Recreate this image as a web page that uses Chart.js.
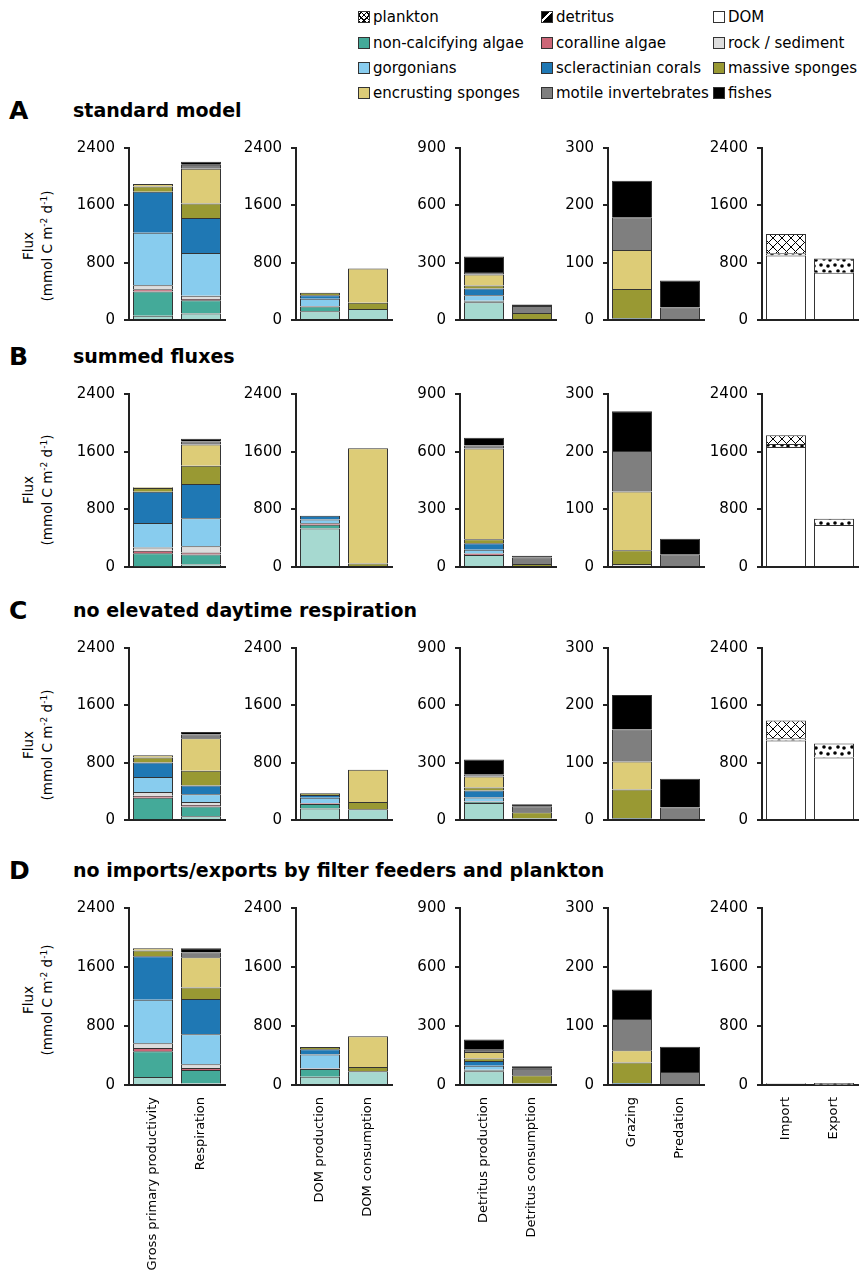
<!DOCTYPE html>
<html>
<head>
<meta charset="utf-8">
<script src="https://cdn.jsdelivr.net/npm/chart.js@4.4.1/dist/chart.umd.min.js"></script>
<style>
  body { margin: 0; background: #fff; font-family: 'DejaVu Sans', sans-serif; color: #000; }
  #page { position: relative; width: 866px; height: 1271px; overflow: hidden; }
  .abs { position: absolute; white-space: nowrap; }
  .leg { position: absolute; font-size: 15px; line-height: 15px; white-space: nowrap; }
  .leg i { display: inline-block; width: 10px; height: 10px; border: 1px solid #333; margin-right: 3px; vertical-align: -1px; }
  .letter { font-weight: bold; font-size: 25px; }
  .title { font-weight: bold; font-size: 19px; }
  .ytitle { font-size: 13.5px; transform: translate(-50%, -50%) rotate(-90deg); }
  .ytitle sup { font-size: 9px; }
</style>
</head>
<body>
<div id="page"></div>
<script>
// bars in each row: GPP, respiration, DOM prod/cons, detritus prod/cons, grazing, predation, import, export
const barLabels = ['Gross primary productivity', 'Respiration', 'DOM production', 'DOM consumption',
  'Detritus production', 'Detritus consumption', 'Grazing', 'Predation', 'Import', 'Export'];

// stacking order, bottom to top
const groups = ['DOM', 'detritus', 'plankton', 'non-calcifying algae', 'coralline algae', 'rock / sediment',
  'gorgonians', 'scleractinian corals', 'massive sponges', 'encrusting sponges', 'motile invertebrates', 'fishes'];
const groupColors = ['#ffffff', 'dots', '#a6d9d0', '#44aa99', '#cc6677', '#dddddd',
  '#88ccee', '#1f78b4', '#999933', '#ddcc77', '#7f7f7f', '#000000'];

const yMax = [2400, 2400, 900, 300, 2400];
const yStep = [800, 800, 300, 100, 800];

const rowLetters = ['A', 'B', 'C', 'D'];
const rowTitles = ['standard model', 'summed fluxes', 'no elevated daytime respiration',
  'no imports/exports by filter feeders and plankton'];

const standardModel = [
  [0, 0, 0, 0, 0, 0, 0, 0, 900, 661],
  [0, 0, 0, 0, 0, 0, 0, 0, 30, 196],
  [60, 91, 122, 152, 93, 0, 0, 0, 270, 0],
  [339, 183, 65, 0, 5, 0, 0, 0, 0, 0],
  [30, 20, 8, 0, 3, 0, 0, 0, 0, 0],
  [57, 45, 0, 0, 0, 0, 0, 0, 0, 0],
  [730, 596, 100, 0, 28, 0, 0, 0, 0, 0],
  [574, 487, 52, 0, 36, 0, 3, 0, 0, 0],
  [74, 204, 34, 87, 16, 36, 51, 0, 0, 0],
  [35, 483, 0, 478, 57, 0, 68, 0, 0, 0],
  [0, 57, 0, 0, 13, 37, 57, 22, 0, 0],
  [0, 43, 0, 0, 81, 8, 64, 47, 0, 0]
];

const summedFluxes = [
  [0, 0, 0, 0, 0, 0, 0, 0, 1665, 584],
  [0, 0, 0, 0, 0, 0, 0, 0, 43, 86],
  [10, 35, 534, 0, 62, 0, 0, 0, 121, 0],
  [182, 139, 52, 0, 0, 0, 0, 0, 0, 0],
  [35, 26, 20, 0, 8, 0, 0, 0, 0, 0],
  [43, 87, 0, 0, 0, 0, 5, 0, 0, 0],
  [339, 391, 52, 0, 20, 0, 0, 0, 0, 0],
  [434, 473, 52, 0, 34, 0, 0, 0, 0, 0],
  [52, 252, 0, 48, 20, 16, 24, 0, 0, 0],
  [13, 295, 0, 1601, 472, 0, 102, 0, 0, 0],
  [0, 43, 0, 0, 16, 34, 70, 22, 0, 0],
  [0, 39, 0, 0, 41, 8, 69, 27, 0, 0]
];

const noDaytimeResp = [
  [0, 0, 0, 0, 0, 0, 0, 0, 1110, 873],
  [0, 0, 0, 0, 0, 0, 0, 0, 30, 194],
  [12, 52, 160, 151, 89, 0, 0, 0, 250, 0],
  [298, 135, 65, 0, 5, 0, 0, 0, 0, 0],
  [30, 22, 8, 0, 3, 0, 0, 0, 0, 0],
  [52, 43, 0, 0, 0, 0, 0, 0, 0, 0],
  [208, 108, 78, 0, 21, 0, 0, 0, 0, 0],
  [204, 122, 39, 0, 36, 8, 3, 0, 0, 0],
  [69, 204, 22, 99, 16, 32, 50, 0, 0, 0],
  [30, 456, 0, 450, 57, 0, 49, 0, 0, 0],
  [0, 52, 0, 0, 13, 32, 56, 22, 0, 0],
  [0, 35, 0, 0, 76, 11, 60, 50, 0, 0]
];

const noImportsExports = [
  [0, 0, 0, 0, 0, 0, 0, 0, 25, 5],
  [0, 0, 0, 0, 0, 0, 0, 0, 0, 22],
  [109, 22, 113, 187, 70, 0, 0, 0, 0, 0],
  [349, 183, 104, 0, 5, 0, 0, 0, 0, 0],
  [44, 26, 8, 0, 3, 0, 0, 0, 0, 0],
  [65, 52, 0, 0, 0, 0, 0, 0, 0, 0],
  [589, 406, 187, 0, 20, 0, 0, 0, 0, 0],
  [589, 476, 74, 0, 24, 8, 3, 0, 0, 0],
  [79, 157, 30, 56, 13, 41, 35, 0, 0, 0],
  [30, 410, 0, 417, 33, 0, 21, 0, 0, 0],
  [0, 65, 0, 0, 11, 33, 53, 22, 0, 0],
  [0, 57, 0, 0, 52, 13, 50, 43, 0, 0]
];

const rows = [standardModel, summedFluxes, noDaytimeResp, noImportsExports];

// layout (pixels)
const axisX = [129, 296, 460, 608, 762];
const rowTop = [142, 388, 642, 902];
const rowBottom = [326, 573, 826, 1085];
const yTitleY = [246, 490, 745, 1000];
const Y_W = 70, PLOT_W = 96, PAD_T = 12, PAD_B = 12, PAD_R = 10, X_LABEL_H = 185;

Chart.defaults.font.family = "'DejaVu Sans', sans-serif";
Chart.defaults.color = '#000';

const page = document.getElementById('page');

const crossHatch = (() => {
  const c = document.createElement('canvas');
  c.width = c.height = 9;
  const g = c.getContext('2d');
  g.fillStyle = '#fff';
  g.fillRect(0, 0, 9, 9);
  g.strokeStyle = '#000';
  g.lineWidth = 1;
  g.beginPath();
  g.moveTo(-1, -1); g.lineTo(10, 10);
  g.moveTo(10, -1); g.lineTo(-1, 10);
  g.stroke();
  return g.createPattern(c, 'repeat');
})();

const dotted = (() => {
  const c = document.createElement('canvas');
  c.width = 14; c.height = 12;
  const g = c.getContext('2d');
  g.fillStyle = '#fff';
  g.fillRect(0, 0, 14, 12);
  g.fillStyle = '#000';
  [[3, 3], [10, 4], [6, 9], [12, 10]].forEach(([x, y]) => {
    g.beginPath(); g.arc(x, y, 1.8, 0, Math.PI * 2); g.fill();
  });
  return g.createPattern(c, 'repeat');
})();

const fillFor = (gi, col) => {
  if (groupColors[gi] === 'dots') return dotted;
  if (groups[gi] === 'plankton' && col === 4) return crossHatch;
  return groupColors[gi];
};

const addDiv = (cls, html, x, y) => {
  const d = document.createElement('div');
  d.className = cls;
  d.innerHTML = html;
  d.style.left = x + 'px';
  d.style.top = y + 'px';
  page.appendChild(d);
  return d;
};

// legend, read row-wise in the same order as the stack
const legendX = [358, 541, 713];
const legendY = [10, 36, 61, 86];
const legendOrder = ['plankton', 'detritus', 'DOM', 'non-calcifying algae', 'coralline algae', 'rock / sediment',
  'gorgonians', 'scleractinian corals', 'massive sponges', 'encrusting sponges', 'motile invertebrates', 'fishes'];
legendOrder.forEach((name, i) => {
  const gi = groups.indexOf(name);
  let style = `background:${groupColors[gi]}`;
  if (name === 'plankton') style = 'background-color:#fff;background-image:repeating-linear-gradient(45deg,#000 0 1px,transparent 1px 4px),repeating-linear-gradient(-45deg,#000 0 1px,transparent 1px 4px)';
  if (name === 'detritus') style = 'background:linear-gradient(135deg,#000 0 38%,#fff 38% 52%,#000 52% 100%)';
  addDiv('leg', `<i style="${style}"></i>${name}`, legendX[i % 3], legendY[Math.floor(i / 3)]);
});

rows.forEach((data, r) => {
  addDiv('abs letter', rowLetters[r], 9, rowTop[r] - 46);
  addDiv('abs title', rowTitles[r], 73, rowTop[r] - 43);
  addDiv('abs ytitle', 'Flux', 28, yTitleY[r]);
  addDiv('abs ytitle', '(mmol C m<sup>-2</sup> d<sup>-1</sup>)', 47, yTitleY[r]);

  const last = r === rows.length - 1;
  const plotH = rowBottom[r] - rowTop[r];

  for (let c = 0; c < 5; c++) {
    const canvas = document.createElement('canvas');
    const w = Y_W + PLOT_W + PAD_R;
    const h = PAD_T + plotH + (last ? X_LABEL_H : PAD_B);
    canvas.width = w;
    canvas.height = h;
    canvas.style.position = 'absolute';
    canvas.style.left = (axisX[c] - Y_W) + 'px';
    canvas.style.top = (rowTop[r] - PAD_T) + 'px';
    page.appendChild(canvas);

    const i0 = 2 * c, i1 = 2 * c + 1;
    new Chart(canvas, {
      type: 'bar',
      data: {
        labels: [barLabels[i0], barLabels[i1]],
        datasets: groups.map((g, gi) => ({
          label: g,
          data: [data[gi][i0] || null, data[gi][i1] || null],
          backgroundColor: fillFor(gi, c),
          borderColor: '#333',
          borderWidth: 1,
          barPercentage: 0.833,
          categoryPercentage: 1
        }))
      },
      options: {
        responsive: false,
        animation: false,
        devicePixelRatio: 1,
        layout: {padding: {top: PAD_T, bottom: last ? 0 : PAD_B, left: 0, right: PAD_R}},
        plugins: {legend: {display: false}, tooltip: {enabled: false}},
        scales: {
          x: {
            stacked: true,
            grid: {display: false},
            border: {display: true, color: '#222', width: 2},
            ticks: {display: last, autoSkip: false, minRotation: 90, maxRotation: 90, padding: 4, font: {size: 13}, color: '#000'},
            afterFit: s => { s.height = last ? X_LABEL_H : 0; }
          },
          y: {
            stacked: true,
            min: 0,
            max: yMax[c],
            grid: {display: true, drawOnChartArea: false, drawTicks: true, tickLength: 5, color: '#222', lineWidth: 2},
            border: {display: true, color: '#222', width: 2},
            ticks: {stepSize: yStep[c], padding: 9, font: {size: 15}, color: '#000', callback: v => String(v)},
            afterFit: s => { s.width = Y_W; }
          }
        }
      }
    });
  }
});
</script>
</body>
</html>
